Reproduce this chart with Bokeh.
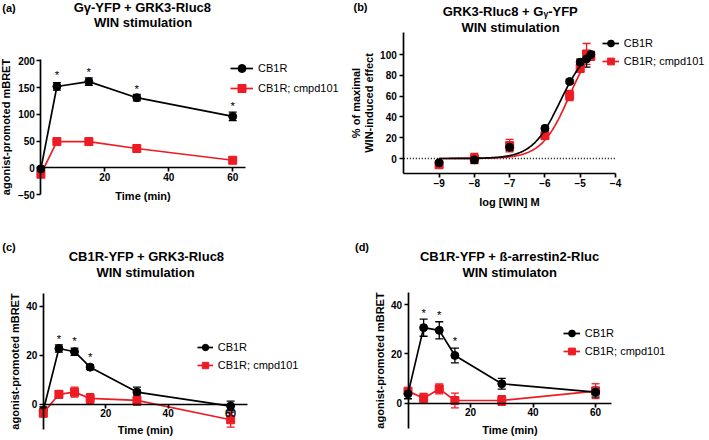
import numpy as np
from bokeh.plotting import figure
from bokeh.models import (ColumnDataSource, Whisker, TeeHead, FixedTicker, Label,
                          Legend, LegendItem, Range1d, AllLabels, LinearAxis)
from bokeh.layouts import column, row
from bokeh.embed import file_html
from bokeh.resources import INLINE
from bokeh.core.properties import value

# ---------------- data ----------------
# (a) Gγ-YFP + GRK3-Rluc8, WIN time course
time_a = [0.0, 5.0, 15.0, 30.0, 60.0]
cb1r_a = [-2.0, 152.0, 161.0, 131.0, 96.0]
cb1r_a_err = [4.0, 7.0, 7.0, 6.0, 8.0]
cmpd_a = [-12.0, 49.0, 49.0, 36.0, 14.0]
cmpd_a_err = [2.0, 2.0, 2.0, 2.0, 2.0]
star_a_x = [5.0, 15.0, 30.0, 60.0]
star_a_y = [173.0, 180.0, 147.0, 115.0]
xticks_a = [20, 40, 60]
yticks_a = [-50, 0, 50, 100, 150, 200]

# (b) GRK3-Rluc8 + Gγ-YFP, concentration response
logwin_b = [-9, -8, -7, -6, -5.3, -5, -4.82, -4.7]
cb1r_b = [-4.1, -1.3, 10.9, 29.0, 74.0, 92.6, 95.8, 100.0]
cb1r_b_err = [2, 3, 3, 2, 2, 3, 8, 3]
cmpd_b = [-6.0, 0.0, 12.5, 22.0, 60.6, 86.8, 100.6, 98.4]
cmpd_b_err = [2, 5, 6, 3, 5, 4, 10, 4]
# fitted sigmoid parameters: bottom, top, logEC50, Hill slope
fit_cb1r_b = (0, 110, -5.567, 1.1)
fit_cmpd_b = (0, 120, -5.31, 1.1)
xticks_b = [-9, -8, -7, -6, -5, -4]
yticks_b = [0, 20, 40, 60, 80, 100]

# (c) CB1R-YFP + GRK3-Rluc8
time_cd = [0, 5, 10, 15, 30, 60]
cb1r_c = [-2.6, 22.7, 21.4, 15.1, 4.9, -0.8]
cb1r_c_err = [1.5, 1.5, 1.5, 1.0, 2.0, 2.0]
cmpd_c = [-3.7, 4.0, 4.9, 2.3, 1.5, -6.4]
cmpd_c_err = [1.5, 1.5, 2.0, 2.0, 2.0, 3.0]
star_c_x = [5, 10, 15]
star_c_y = [26.7, 25.8, 19.3]

# (d) CB1R-YFP + ß-arrestin2-Rluc
cb1r_d = [3.8, 30.7, 29.6, 19.4, 7.9, 4.5]
cb1r_d_err = [2.0, 3.5, 3.5, 3.0, 2.2, 2.0]
cmpd_d = [4.9, 2.0, 5.8, 1.1, 1.1, 4.9]
cmpd_d_err = [1.0, 2.0, 2.0, 3.0, 2.0, 3.0]
star_d_x = [5, 10, 15]
star_d_y = [36.7, 36.0, 25.1]

xticks_cd = [20, 40, 60]
yticks_cd = [0, 20, 40]

series_names = ["CB1R", "CB1R; cmpd101"]

# ---------------- styling ----------------
FONT = "Liberation Sans"
RED = "#ED1C24"
BLACK = "#000000"


class Box:
    """One figure whose frame fills it; the axes box is placed in page pixels."""
    def __init__(self, origin, size, frame, xdata, ydata):
        self.ox, self.oy = origin
        self.w, self.h = size
        x0, x1, y0, y1 = frame
        xdata = (float(xdata[0]), float(xdata[1]))
        ydata = (float(ydata[0]), float(ydata[1]))
        kx = (xdata[1] - xdata[0]) / (x1 - x0)
        ky = (ydata[1] - ydata[0]) / (y1 - y0)
        self.xr = (xdata[0] + (self.ox - x0) * kx, xdata[0] + (self.ox + self.w - x0) * kx)
        self.yr = (ydata[0] - (self.oy + self.h - y1) * ky, ydata[1] + (y0 - self.oy) * ky)
        self.xdata = xdata
        self.ydata = ydata

    def screen(self, xr, yr):
        return xr - self.ox, self.h - (yr - self.oy)


def make_fig(box):
    p = figure(width=box.w, height=box.h,
               x_range=Range1d(*box.xr), y_range=Range1d(*box.yr),
               x_axis_type=None, y_axis_type=None,
               min_border=0, min_border_left=0, min_border_right=0,
               min_border_top=0, min_border_bottom=0,
               toolbar_location=None, output_backend="svg",
               outline_line_color=None, background_fill_color=None,
               border_fill_color=None)
    p.xgrid.visible = False
    p.ygrid.visible = False
    return p


def make_axis(ticks, label, label_standoff, tick_standoff, loc, bounds):
    ax = LinearAxis()
    ax.ticker = FixedTicker(ticks=[float(t) for t in ticks], minor_ticks=[])
    ax.major_label_policy = AllLabels()
    ax.axis_line_width = 1.7
    ax.axis_line_color = BLACK
    ax.major_tick_line_width = 1.7
    ax.major_tick_line_color = BLACK
    ax.major_tick_in = 0
    ax.major_tick_out = 4
    ax.minor_tick_line_color = None
    ax.major_label_standoff = tick_standoff
    ax.major_label_text_font = FONT
    ax.major_label_text_font_style = "bold"
    ax.major_label_text_font_size = "10px"
    ax.major_label_text_color = BLACK
    ax.axis_label = label
    ax.axis_label_text_font = FONT
    ax.axis_label_text_font_style = "bold"
    ax.axis_label_text_font_size = "11px"
    ax.axis_label_text_color = BLACK
    ax.axis_label_standoff = label_standoff
    ax.fixed_location = float(loc)
    ax.bounds = (float(bounds[0]), float(bounds[1]))
    return ax


def add_text(p, box, xr, yr, text, size="13px", style="bold"):
    sx, sy = box.screen(xr, yr)
    p.add_layout(Label(x=sx, y=sy, x_units="screen", y_units="screen", text=text,
                       text_font=FONT, text_font_size=size, text_font_style=style,
                       text_align="center", text_baseline="middle", text_color=BLACK))


def add_errors(p, xs, ys, errs, color):
    src = ColumnDataSource(dict(x=[float(v) for v in xs],
                                lo=[float(y - e) for y, e in zip(ys, errs)],
                                hi=[float(y + e) for y, e in zip(ys, errs)]))
    p.add_layout(Whisker(source=src, base="x", upper="hi", lower="lo",
                         dimension="height", line_color=color, line_width=1.3,
                         upper_head=TeeHead(size=8, line_color=color, line_width=1.3),
                         lower_head=TeeHead(size=8, line_color=color, line_width=1.3)))


def add_series(p, xs, ys, errs, color, marker, draw_line=True):
    add_errors(p, xs, ys, errs, color)
    rs = []
    if draw_line:
        rs.append(p.line(xs, ys, line_color=color, line_width=1.7))
    rs.append(p.scatter(xs, ys, marker=marker, size=8, fill_color=color, line_color=color))
    return rs


def add_legend(p, box, items, ref_x, ref_y, gw, gh):
    vx, vy_c = box.screen(ref_x, ref_y)
    vy = vy_c + gh / 2 - 2 * gh
    legend = Legend(items=[LegendItem(label=lab, renderers=rs) for lab, rs in items],
                    location=(vx, vy), orientation="vertical", padding=0, margin=0,
                    spacing=0, glyph_width=gw, glyph_height=gh, label_height=gh,
                    label_standoff=5, border_line_color=None, background_fill_color=None,
                    label_text_font=FONT, label_text_font_size="11px",
                    label_text_color=BLACK)
    p.add_layout(legend, "center")


def add_stars(p, xs, ys):
    p.text(x=xs, y=ys, text=["*"] * len(xs), text_font=value(FONT),
           text_font_size="11.5px", text_align="center", text_baseline="middle",
           text_color=BLACK)


def setup_axes(p, box, xticks, yticks, xlabel, ylabel, xls, yls, xloc, yloc):
    p.add_layout(make_axis(xticks, xlabel, xls, 1, xloc, box.xdata), "below")
    p.add_layout(make_axis(yticks, ylabel, yls, 2, yloc, box.ydata), "left")


# ---------------- panel (a) ----------------
box_a = Box((0, 0), (350, 220), (40.4, 245, 58.7, 194), (0, 64), (-50, 203))
pa = make_fig(box_a)
setup_axes(pa, box_a, xticks_a, yticks_a, "Time (min)", "agonist-promoted mBRET", 6, 3, 0, 0)
ra_red = add_series(pa, time_a, cmpd_a, cmpd_a_err, RED, "square")
ra_blk = add_series(pa, time_a, cb1r_a, cb1r_a_err, BLACK, "circle")
add_stars(pa, star_a_x, star_a_y)
add_legend(pa, box_a, [(series_names[0], ra_blk), (series_names[1], ra_red)], 230, 68, 23, 20)
add_text(pa, box_a, 142, 7.3, "Gγ-YFP + GRK3-Rluc8")
add_text(pa, box_a, 142.5, 22.4, "WIN stimulation")
add_text(pa, box_a, 8.5, 7.5, "(a)", size="11px")

# ---------------- panel (b) ----------------
box_b = Box((350, 0), (359, 220), (403.3, 615, 32.3, 173.3), (-10, -4), (-14.7, 120.9))
pb = make_fig(box_b)
setup_axes(pb, box_b, xticks_b, yticks_b, "log [WIN] M", "% of maximal\nWIN-induced effect",
           6, 2, box_b.ydata[0], box_b.xdata[0])
pb.left[0].axis_label_text_line_height = 1.05
pb.left[0].major_label_standoff = 3
# dotted zero baseline across the axes box
pb.line(x=list(box_b.xdata), y=[0, 0], line_color=BLACK, line_width=1.3, line_dash="1 2")
xc = np.linspace(min(logwin_b), max(logwin_b), 200)


def sigmoid(x, params):
    bottom, top, logec50, hill = params
    return bottom + (top - bottom) / (1 + 10 ** ((logec50 - x) * hill))


rb_red = add_series(pb, logwin_b, cmpd_b, cmpd_b_err, RED, "square", draw_line=False)
rb_red.insert(0, pb.line(xc, sigmoid(xc, fit_cmpd_b), line_color=RED, line_width=1.7))
rb_blk = add_series(pb, logwin_b, cb1r_b, cb1r_b_err, BLACK, "circle", draw_line=False)
rb_blk.insert(0, pb.line(xc, sigmoid(xc, fit_cb1r_b), line_color=BLACK, line_width=1.7))
add_legend(pb, box_b, [(series_names[0], rb_blk), (series_names[1], rb_red)], 601.7, 43.3, 17, 18)
add_text(pb, box_b, 509.7, 10.5, "GRK3-Rluc8 + Gᵧ-YFP")
add_text(pb, box_b, 510, 27, "WIN stimulation")
add_text(pb, box_b, 360, 6.5, "(b)", size="11px")

# ---------------- panel (c) ----------------
box_c = Box((0, 220), (350, 220), (42.8, 247.3, 292.7, 429.3), (0, 65.5), (-10.5, 45.3))
pc = make_fig(box_c)
setup_axes(pc, box_c, xticks_cd, yticks_cd, "Time (min)", "agonist-promoted mBRET", 3, 2, 0, 0)
rc_blk = add_series(pc, time_cd, cb1r_c, cb1r_c_err, BLACK, "circle")
rc_red = add_series(pc, time_cd, cmpd_c, cmpd_c_err, RED, "square")
add_stars(pc, star_c_x, star_c_y)
add_legend(pc, box_c, [(series_names[0], rc_blk), (series_names[1], rc_red)], 196.7, 346.7, 16, 18)
add_text(pc, box_c, 146, 255.8, "CB1R-YFP + GRK3-Rluc8")
add_text(pc, box_c, 145, 271.7, "WIN stimulation")
add_text(pc, box_c, 8.5, 246.7, "(c)", size="11px")

# ---------------- panel (d) ----------------
box_d = Box((350, 220), (359, 220), (407.5, 611, 291.7, 428.3), (0, 65.1), (-10.4, 45.1))
pd_ = make_fig(box_d)
setup_axes(pd_, box_d, xticks_cd, yticks_cd, "Time (min)", "agonist-promoted mBRET", 4, 2, 0, 0)
rd_red = add_series(pd_, time_cd, cmpd_d, cmpd_d_err, RED, "square")
rd_blk = add_series(pd_, time_cd, cb1r_d, cb1r_d_err, BLACK, "circle")
add_stars(pd_, star_d_x, star_d_y)
add_legend(pd_, box_d, [(series_names[0], rd_blk), (series_names[1], rd_red)], 562.7, 333.3, 17, 18)
add_text(pd_, box_d, 509.2, 255.8, "CB1R-YFP + ß-arrestin2-Rluc")
add_text(pd_, box_d, 509.2, 271.7, "WIN stimulaton")
add_text(pd_, box_d, 361.5, 246, "(d)", size="11px")

layout = column(row(pa, pb), row(pc, pd_))
open("out.html", "w").write(file_html(layout, INLINE))
